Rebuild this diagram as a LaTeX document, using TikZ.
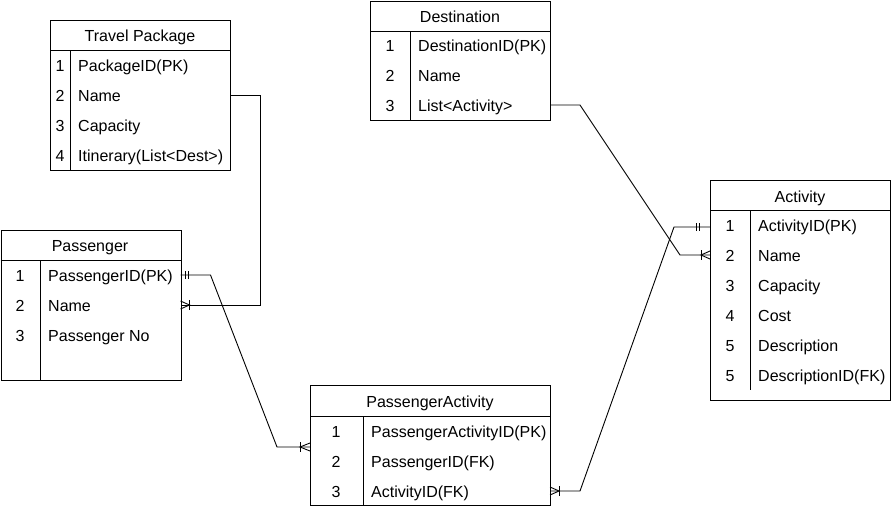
\documentclass[tikz,border=0pt]{standalone}
\usepackage{fontspec}
\setmainfont{Liberation Sans}
\usetikzlibrary{calc}
\begin{document}
\begin{tikzpicture}[x=1pt,y=-1pt,
  every node/.style={font=\fontsize{16}{19}\selectfont, inner sep=0pt, text height=13.5pt, text depth=0pt},
  tbl/.style={draw, line width=0.9pt, rectangle, anchor=north west, inner sep=0pt, text height=, text depth=},
  ln/.style={line width=0.9pt},
  num/.style={anchor=center},
  fld/.style={anchor=west},
  hdr/.style={anchor=center}]
\useasboundingbox (0,0) rectangle (891,506);

% ---------- Travel Package ----------
\node[tbl, minimum width=180pt, minimum height=150pt] (tp) at (50,20) {};
\node[hdr] (tph) at (140,35) {Travel Package};
\draw[ln] (50,50) -- (230,50);
\draw[ln] (70,50) -- (70,170);
\node[num] (tp1n) at (60,65) {1};  \node[fld] (tp1) at (78,65) {PackageID(PK)};
\node[num] (tp2n) at (60,95) {2};  \node[fld] (tp2) at (78,95) {Name};
\node[num] (tp3n) at (60,125) {3}; \node[fld] (tp3) at (78,125) {Capacity};
\node[num] (tp4n) at (60,155) {4}; \node[fld] (tp4) at (78,155) {Itinerary(List<Dest>)};
\coordinate (tpR2) at (230,95);

% ---------- Destination ----------
\node[tbl, minimum width=180pt, minimum height=119pt] (de) at (370,1) {};
\node[hdr] (deh) at (460,16) {Destination};
\draw[ln] (370,31) -- (550,31);
\draw[ln] (410,31) -- (410,120);
\node[num] (de1n) at (390,45) {1};  \node[fld] (de1) at (418,45) {DestinationID(PK)};
\node[num] (de2n) at (390,75) {2};  \node[fld] (de2) at (418,75) {Name};
\node[num] (de3n) at (390,105) {3}; \node[fld] (de3) at (418,105) {List<Activity>};
\coordinate (deR3) at (550,105);

% ---------- Passenger ----------
\node[tbl, minimum width=180pt, minimum height=150pt] (pa) at (0.5,230) {};
\node[hdr] (pah) at (90,245) {Passenger};
\draw[ln] (0.5,260) -- (180.5,260);
\draw[ln] (40,260) -- (40,380);
\node[num] (pa1n) at (20,275) {1}; \node[fld] (pa1) at (48,275) {PassengerID(PK)};
\node[num] (pa2n) at (20,305) {2}; \node[fld] (pa2) at (48,305) {Name};
\node[num] (pa3n) at (20,335) {3}; \node[fld] (pa3) at (48,335) {Passenger No};
\coordinate (paR1) at (180.5,275);
\coordinate (paR2) at (180.5,305);

% ---------- PassengerActivity ----------
\node[tbl, minimum width=240pt, minimum height=120pt] (pc) at (310,385) {};
\node[hdr] (pch) at (430,401) {PassengerActivity};
\draw[ln] (310,416) -- (550,416);
\draw[ln] (363,416) -- (363,505);
\node[num] (pc1n) at (336,431) {1}; \node[fld] (pc1) at (371,431) {PassengerActivityID(PK)};
\node[num] (pc2n) at (336,461) {2}; \node[fld] (pc2) at (371,461) {PassengerID(FK)};
\node[num] (pc3n) at (336,491) {3}; \node[fld] (pc3) at (371,491) {ActivityID(FK)};
\coordinate (pcL) at (310,447);
\coordinate (pcR3) at (550,491);

% ---------- Activity ----------
\node[tbl, minimum width=180pt, minimum height=220pt] (ac) at (710,180) {};
\node[hdr] (ach) at (800,196) {Activity};
\draw[ln] (710,210) -- (890,210);
\draw[ln] (750,210) -- (750,390);
\node[num] (ac1n) at (730,225) {1}; \node[fld] (ac1) at (758,225) {ActivityID(PK)};
\node[num] (ac2n) at (730,255) {2}; \node[fld] (ac2) at (758,255) {Name};
\node[num] (ac3n) at (730,285) {3}; \node[fld] (ac3) at (758,285) {Capacity};
\node[num] (ac4n) at (730,315) {4}; \node[fld] (ac4) at (758,315) {Cost};
\node[num] (ac5n) at (730,345) {5}; \node[fld] (ac5) at (758,345) {Description};
\node[num] (ac6n) at (730,375) {5}; \node[fld] (ac6) at (758,375) {DescriptionID(FK)};
\coordinate (acL1) at (710,227);
\coordinate (acL2) at (710,255);

% ---------- Connectors ----------
% Travel Package -> Passenger
\draw[ln] (tpR2) -- ++(30,0) |- (paR2);
\draw[ln] ($(paR2)+(0,-4)$) -- ($(paR2)+(9,0)$) -- ($(paR2)+(0,4)$);
\draw[ln] ($(paR2)+(9,-5)$) -- ($(paR2)+(9,5)$);

% Passenger -> PassengerActivity
\draw[ln] (paR1) -- ++(30,0) -- ($(pcL)+(-33,0)$) -- (pcL);
\draw[ln] ($(paR1)+(5,-4)$) -- ($(paR1)+(5,4)$);
\draw[ln] ($(paR1)+(8,-4)$) -- ($(paR1)+(8,4)$);
\draw[ln] ($(pcL)+(0,-4)$) -- ($(pcL)+(-10,0)$) -- ($(pcL)+(0,4)$);
\draw[ln] ($(pcL)+(-10,-5)$) -- ($(pcL)+(-10,5)$);

% PassengerActivity -> Activity
\draw[ln] (pcR3) -- ++(30,0) -- ($(acL1)+(-36,0)$) -- (acL1);
\draw[ln] ($(pcR3)+(0,-4)$) -- ($(pcR3)+(9,0)$) -- ($(pcR3)+(0,4)$);
\draw[ln] ($(pcR3)+(9,-5)$) -- ($(pcR3)+(9,5)$);
\draw[ln] ($(acL1)+(-14,-4)$) -- ($(acL1)+(-14,4)$);
\draw[ln] ($(acL1)+(-11,-4)$) -- ($(acL1)+(-11,4)$);

% Destination -> Activity
\draw[ln] (deR3) -- ++(30,0) -- ($(acL2)+(-30,0)$) -- (acL2);
\draw[ln] ($(acL2)+(0,-4)$) -- ($(acL2)+(-9,0)$) -- ($(acL2)+(0,4)$);
\draw[ln] ($(acL2)+(-9,-5)$) -- ($(acL2)+(-9,5)$);
\end{tikzpicture}
\end{document}
